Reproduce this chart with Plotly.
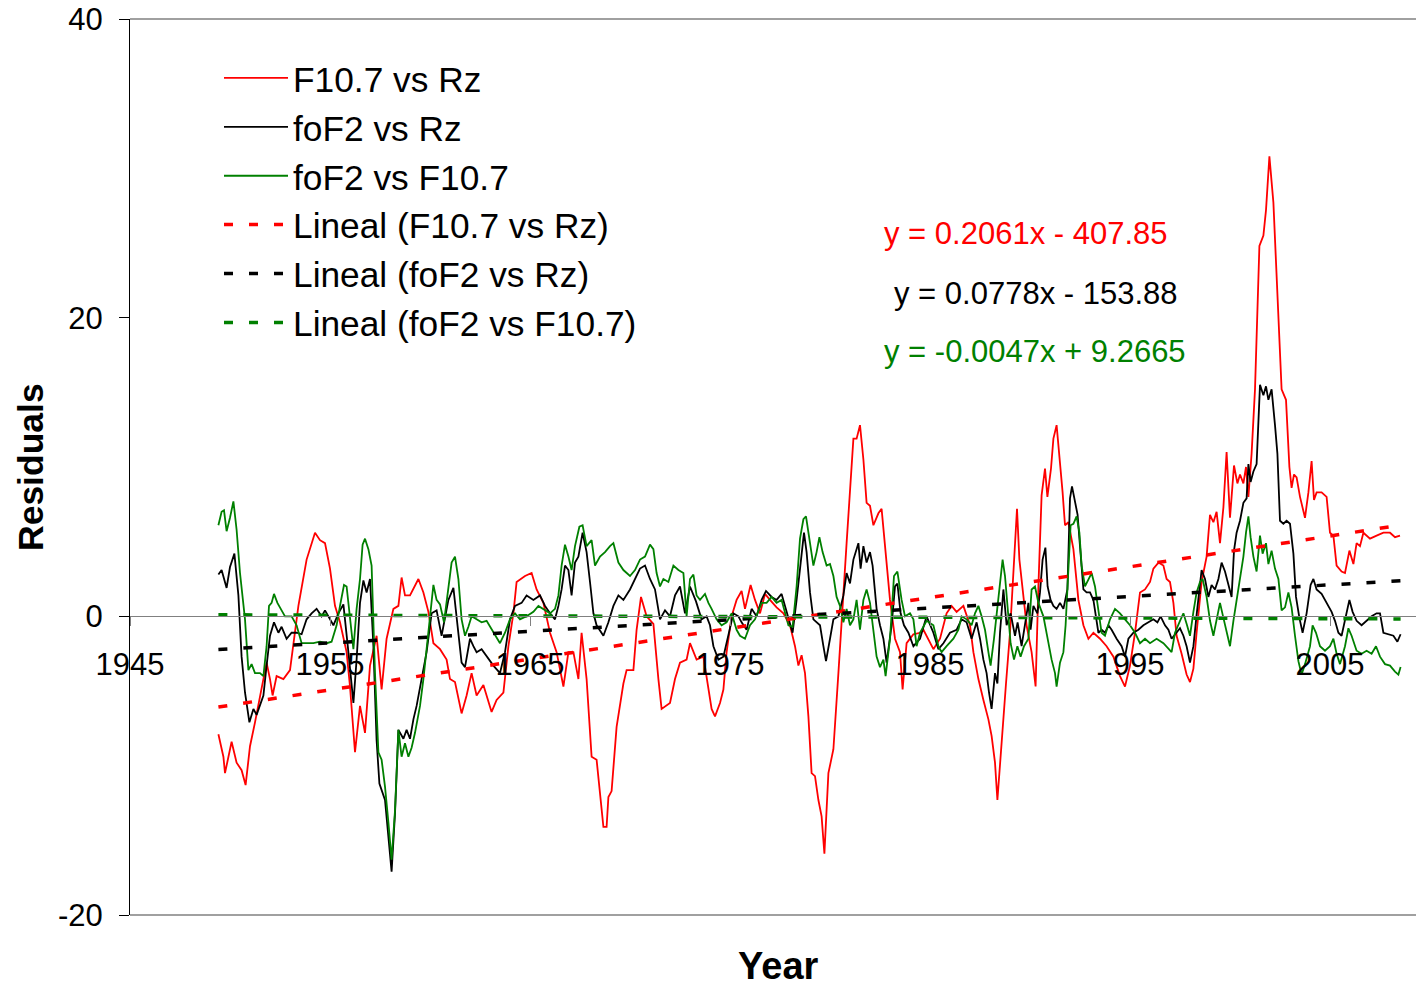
import plotly.graph_objects as go

# ---------------- data ----------------
red_years = [1949.42, 1949.67, 1949.75, 1950.08, 1950.33, 1950.58, 1950.78, 1951.0, 1951.25, 1951.5,
             1951.83, 1952.0, 1952.13, 1952.33, 1952.67, 1953.0, 1953.42, 1953.83, 1954.25, 1954.5,
             1954.75, 1955.0, 1955.25, 1955.5, 1955.83, 1956.0, 1956.25, 1956.5, 1956.75, 1957.0,
             1957.33, 1957.58, 1957.83, 1958.17, 1958.42, 1958.58, 1958.75, 1959.0, 1959.42, 1959.67,
             1959.92, 1960.17, 1960.5, 1960.83, 1961.0, 1961.25, 1961.58, 1961.83, 1962.08, 1962.33,
             1962.67, 1963.08, 1963.33, 1963.67, 1963.92, 1964.17, 1964.33, 1964.75, 1965.08, 1965.33,
             1965.67, 1966.0, 1966.33, 1966.67, 1966.92, 1967.17, 1967.42, 1967.58, 1967.83, 1968.08,
             1968.33, 1968.67, 1968.83, 1968.92, 1969.08, 1969.33, 1969.67, 1969.83, 1970.17, 1970.33,
             1970.55, 1970.83, 1971.17, 1971.42, 1971.58, 1972.0, 1972.25, 1972.5, 1972.83, 1973.0,
             1973.33, 1973.67, 1973.92, 1974.08, 1974.25, 1974.5, 1974.67, 1974.83, 1975.08, 1975.33,
             1975.58, 1975.75, 1976.03, 1976.25, 1976.5, 1976.75, 1977.0, 1977.33, 1977.67, 1978.0,
             1978.25, 1978.42, 1978.58, 1978.75, 1978.92, 1979.08, 1979.25, 1979.42, 1979.58, 1979.72,
             1979.92, 1980.17, 1980.42, 1980.67, 1980.83, 1981.17, 1981.33, 1981.5, 1981.67, 1981.83,
             1982.0, 1982.17, 1982.42, 1982.58, 1982.75, 1983.0, 1983.25, 1983.5, 1983.63, 1983.83,
             1984.17, 1984.5, 1984.67, 1985.17, 1985.5, 1985.83, 1986.08, 1986.33, 1986.67, 1987.0,
             1987.17, 1987.42, 1987.67, 1987.92, 1988.08, 1988.25, 1988.37, 1988.5, 1988.63, 1988.8,
             1989.0, 1989.2, 1989.35, 1989.47, 1989.58, 1989.83, 1990.08, 1990.28, 1990.42, 1990.58,
             1990.75, 1990.87, 1991.05, 1991.17, 1991.33, 1991.5, 1991.63, 1991.75, 1991.92, 1992.17,
             1992.42, 1992.67, 1992.92, 1993.17, 1993.5, 1993.83, 1994.17, 1994.5, 1994.75, 1995.0,
             1995.25, 1995.5, 1995.75, 1996.0, 1996.17, 1996.42, 1996.67, 1996.83, 1997.0, 1997.17,
             1997.33, 1997.58, 1997.83, 1998.0, 1998.17, 1998.33, 1998.58, 1998.83, 1999.0, 1999.17,
             1999.33, 1999.5, 1999.67, 1999.83, 2000.0, 2000.2, 2000.37, 2000.5, 2000.67, 2000.8,
             2000.92, 2001.08, 2001.25, 2001.47, 2001.67, 2001.8, 2001.97, 2002.17, 2002.37, 2002.58,
             2002.8, 2002.97, 2003.08, 2003.2, 2003.33, 2003.5, 2003.75, 2003.92, 2004.08, 2004.2,
             2004.33, 2004.58, 2004.83, 2005.0, 2005.17, 2005.33, 2005.58, 2005.75, 2005.97, 2006.17,
             2006.33, 2006.5, 2006.67, 2007.0, 2007.33, 2007.67, 2008.0, 2008.25, 2008.5]
red_vals = [-7.9, -9.4, -10.5, -8.4, -9.8, -10.3, -11.3, -8.7, -7.1, -5.3,
            -3.1, -4.2, -5.3, -4.0, -4.2, -3.6, 0.7, 3.8, 5.6, 5.1,
            4.9, 3.2, 0.7, -0.4, -2.4, -4.7, -9.1, -6.0, -7.8, -3.3,
            -1.3, -4.9, -1.5, 0.5, 0.7, 2.6, 1.4, 1.4, 2.5, 1.6,
            0.3, -1.8, -2.2, -2.9, -4.2, -4.4, -6.5, -5.3, -3.8, -5.3,
            -4.6, -6.4, -5.6, -5.1, -2.0, 0.2, 2.3, 2.7, 2.9, 1.8,
            0.9, -1.1, -2.4, -4.7, -2.4, -2.4, -4.2, -1.1, -4.2, -9.4,
            -9.6, -14.1, -14.1, -12.1, -11.7, -7.4, -4.5, -3.6, -3.6, -0.9,
            1.3, 0.0, -0.5, -4.2, -6.2, -5.8, -4.2, -3.1, -2.9, -1.8,
            -2.9, -2.7, -4.7, -6.2, -6.7, -5.8, -4.9, -2.4, 0.0, 1.1,
            1.7, 0.5, 2.1, 1.1, 0.2, 1.5, 1.1, 0.6, 0.2, -0.6,
            -2.0, -3.3, -2.6, -3.8, -6.7, -10.5, -10.7, -12.3, -13.4, -15.9,
            -10.5, -8.9, -3.8, 1.1, 4.9, 11.9, 11.9, 12.8, 10.5, 7.6,
            7.4, 6.1, 6.9, 7.2, 4.5, 1.1, -1.5, -2.4, -4.9, -1.8,
            -1.2, -1.1, -0.9, -2.2, -1.5, 0.2, 0.7, 0.3, 0.7, -0.6,
            -2.4, -4.2, -5.6, -6.9, -8.0, -9.8, -12.3, -9.8, -7.1, -4.5,
            -1.1, 3.4, 7.2, 3.8, 2.3, -0.6, -2.4, -4.7, 2.0, 8.1,
            9.9, 8.0, 9.9, 11.9, 12.8, 10.5, 8.3, 6.1, 6.3, 4.5,
            1.1, -0.6, -1.5, -1.1, -1.5, -2.0, -2.7, -4.0, -4.7, -3.3,
            -1.1, 1.6, 1.8, 2.3, 3.2, 3.6, 3.4, 2.5, 2.3, 0.9,
            -1.3, -2.5, -3.9, -4.4, -3.5, -1.1, 2.3, 4.0, 6.8, 6.3,
            7.0, 4.9, 7.3, 11.0, 6.6, 10.1, 8.9, 9.5, 8.9, 10.0,
            8.0, 10.9, 15.2, 24.8, 25.5, 27.2, 30.8, 27.7, 21.2, 15.2,
            14.5, 10.0, 8.6, 9.5, 9.3, 8.0, 6.6, 8.3, 10.4, 7.8,
            8.3, 8.3, 8.0, 5.6, 5.4, 3.4, 3.0, 2.9, 4.4, 3.5,
            4.9, 4.7, 5.6, 5.2, 5.4, 5.6, 5.6, 5.3, 5.4]

black_years = [1949.42, 1949.58, 1949.83, 1950.0, 1950.22, 1950.42, 1950.58, 1950.75, 1950.97, 1951.17,
               1951.33, 1951.5, 1951.67, 1951.83, 1952.0, 1952.2, 1952.42, 1952.58, 1952.83, 1953.08,
               1953.33, 1953.58, 1953.83, 1954.08, 1954.33, 1954.58, 1954.75, 1954.92, 1955.17, 1955.42,
               1955.67, 1955.92, 1956.17, 1956.33, 1956.5, 1956.67, 1956.83, 1957.0, 1957.17, 1957.33,
               1957.47, 1957.75, 1957.97, 1958.08, 1958.25, 1958.42, 1958.67, 1958.83, 1959.0, 1959.17,
               1959.33, 1959.5, 1959.83, 1960.08, 1960.33, 1960.58, 1960.92, 1961.17, 1961.42, 1961.58,
               1961.75, 1962.0, 1962.17, 1962.33, 1962.58, 1962.83, 1963.17, 1963.5, 1963.75, 1964.0,
               1964.25, 1964.58, 1964.83, 1965.17, 1965.5, 1965.75, 1966.0, 1966.25, 1966.42, 1966.58,
               1966.75, 1966.92, 1967.08, 1967.25, 1967.42, 1967.63, 1967.83, 1968.0, 1968.17, 1968.33,
               1968.67, 1968.92, 1969.17, 1969.42, 1969.67, 1970.0, 1970.25, 1970.5, 1970.75, 1971.0,
               1971.25, 1971.5, 1971.75, 1972.0, 1972.25, 1972.5, 1972.75, 1973.0, 1973.3, 1973.58,
               1973.83, 1974.0, 1974.17, 1974.42, 1974.67, 1974.92, 1975.17, 1975.42, 1975.58, 1975.83,
               1976.08, 1976.33, 1976.58, 1976.8, 1977.08, 1977.33, 1977.58, 1977.75, 1978.0, 1978.13,
               1978.33, 1978.53, 1978.7, 1978.83, 1979.0, 1979.17, 1979.33, 1979.5, 1979.67, 1979.8,
               1980.0, 1980.17, 1980.42, 1980.67, 1980.83, 1981.0, 1981.17, 1981.42, 1981.53, 1981.67,
               1981.83, 1982.0, 1982.13, 1982.33, 1982.5, 1982.67, 1982.83, 1983.08, 1983.25, 1983.37,
               1983.53, 1983.7, 1983.92, 1984.17, 1984.5, 1984.83, 1985.17, 1985.42, 1985.67, 1986.0,
               1986.33, 1986.58, 1986.83, 1987.08, 1987.33, 1987.5, 1987.67, 1987.83, 1987.95, 1988.08,
               1988.25, 1988.37, 1988.5, 1988.67, 1988.83, 1989.03, 1989.25, 1989.38, 1989.58, 1989.8,
               1989.92, 1990.03, 1990.17, 1990.37, 1990.5, 1990.63, 1990.77, 1990.88, 1991.03, 1991.17,
               1991.33, 1991.5, 1991.67, 1991.87, 1992.0, 1992.1, 1992.25, 1992.38, 1992.5, 1992.67,
               1992.83, 1993.0, 1993.17, 1993.42, 1993.58, 1993.75, 1993.92, 1994.08, 1994.33, 1994.58,
               1994.75, 1994.92, 1995.17, 1995.42, 1995.67, 1995.92, 1996.17, 1996.37, 1996.53, 1996.75,
               1996.92, 1997.08, 1997.25, 1997.5, 1997.67, 1997.83, 1998.0, 1998.17, 1998.33, 1998.58,
               1998.75, 1998.92, 1999.08, 1999.25, 1999.42, 1999.58, 1999.75, 1999.92, 2000.08, 2000.2,
               2000.33, 2000.5, 2000.67, 2000.83, 2000.92, 2001.03, 2001.17, 2001.33, 2001.5, 2001.67,
               2001.8, 2001.92, 2002.08, 2002.25, 2002.37, 2002.5, 2002.67, 2002.83, 2003.0, 2003.17,
               2003.3, 2003.47, 2003.63, 2003.83, 2004.03, 2004.17, 2004.33, 2004.58, 2004.83, 2005.08,
               2005.25, 2005.42, 2005.58, 2005.75, 2005.97, 2006.13, 2006.33, 2006.58, 2006.83, 2007.08,
               2007.33, 2007.5, 2007.67, 2007.92, 2008.17, 2008.37, 2008.53]
black_vals = [2.8, 3.1, 1.9, 3.3, 4.2, 1.4, -2.7, -5.1, -7.1, -6.2,
              -6.6, -6.0, -5.3, -3.3, -1.3, -0.4, -1.1, -0.7, -1.5, -1.1,
              -1.1, -1.2, -0.2, 0.2, 0.5, 0.0, 0.4, 0.0, -0.6, 0.2,
              0.8, -2.4, -5.8, -2.9, 0.9, 2.4, 1.6, 2.5, -2.0, -8.3,
              -11.2, -12.3, -15.4, -17.1, -13.2, -7.6, -8.2, -7.6, -8.2, -6.9,
              -6.0, -4.7, -2.4, 0.2, 0.4, -1.3, 1.1, 1.9, -0.9, -3.1,
              -3.4, -1.5, -2.0, -2.4, -2.2, -2.7, -3.3, -3.8, -2.4, -0.2,
              0.7, 0.9, 1.4, 1.1, 1.4, 0.7, 0.2, -0.2, 0.7, 1.8,
              3.4, 3.1, 1.4, 3.6, 4.0, 5.6, 4.3, 2.3, 0.2, -0.6,
              -1.3, -0.4, 0.7, 1.4, 1.1, 1.8, 2.5, 3.2, 3.4, 2.5,
              1.8, -0.2, 0.4, 0.0, 1.4, 2.0, 0.2, 2.0, 1.0, -0.2,
              0.0, -0.6, -2.0, -2.9, -2.7, -1.3, 0.2, 0.0, -0.4, -0.9,
              0.5, 0.0, 1.1, 1.7, 1.3, 1.1, 1.5, 0.7, -0.6, -1.1,
              1.1, 3.8, 5.6, 4.3, 1.6, -0.2, -0.4, -0.6, -2.0, -3.0,
              -1.5, -0.2, 0.0, 1.4, 2.9, 2.2, 3.8, 4.9, 3.2, 4.7,
              3.6, 4.3, 3.4, 0.5, -0.6, -1.5, -3.1, -0.6, 2.0, 2.2,
              0.2, -0.6, -1.1, -2.0, -1.5, 0.0, -1.1, -2.2, -1.8, -1.1,
              -0.9, -0.2, -0.4, -1.5, -0.4, -1.5, -2.9, -3.8, -5.1, -6.2,
              -3.8, -4.5, -1.1, 1.8, -0.6, 0.2, -1.3, -0.4, -2.0, 0.0,
              0.9, -0.9, 0.7, 0.2, 1.6, 3.8, 4.6, 2.0, 1.1, 0.7,
              0.5, 0.9, 0.5, 1.8, 7.9, 8.7, 7.6, 6.8, 4.7, 1.8,
              1.6, 1.6, 1.1, -1.1, -0.9, -1.1, -0.6, -0.9, -1.5, -2.0,
              -2.7, -1.5, -1.1, -0.9, -0.6, -0.4, -0.2, -0.4, 0.0, -0.6,
              -0.9, -1.5, -1.2, -0.8, -1.3, -2.0, -3.1, -2.0, 0.1, 3.1,
              2.5, 1.3, 2.1, 1.8, 2.5, 3.6, 3.0, 2.1, 1.3, 4.4,
              5.6, 6.4, 7.6, 7.9, 10.2, 9.0, 9.7, 10.2, 15.5, 14.8,
              15.4, 14.5, 15.2, 12.8, 10.9, 6.4, 6.2, 6.4, 6.2, 4.2,
              1.3, -0.1, -1.1, 0.2, 2.1, 2.5, 1.8, 1.5, 0.9, 0.3,
              -0.3, -1.1, -1.3, -0.3, 1.1, 0.3, -0.3, -0.6, -0.3, 0.0,
              0.2, 0.2, -1.1, -1.2, -1.3, -1.7, -1.2]

green_years = [1949.42, 1949.58, 1949.7, 1949.83, 1950.0, 1950.17, 1950.33, 1950.5, 1950.75, 1950.92,
               1951.08, 1951.25, 1951.5, 1951.67, 1951.83, 1951.95, 1952.08, 1952.2, 1952.37, 1952.5,
               1952.75, 1953.08, 1953.33, 1953.58, 1953.83, 1954.17, 1954.5, 1954.83, 1955.08, 1955.33,
               1955.5, 1955.7, 1955.83, 1956.0, 1956.17, 1956.33, 1956.5, 1956.63, 1956.75, 1956.92,
               1957.08, 1957.25, 1957.42, 1957.58, 1957.75, 1957.92, 1958.08, 1958.25, 1958.42, 1958.58,
               1958.75, 1958.92, 1959.08, 1959.25, 1959.5, 1959.67, 1959.83, 1960.0, 1960.17, 1960.33,
               1960.5, 1960.7, 1960.92, 1961.08, 1961.25, 1961.42, 1961.58, 1961.75, 1961.92, 1962.08,
               1962.33, 1962.58, 1962.83, 1963.17, 1963.5, 1963.75, 1964.0, 1964.25, 1964.5, 1964.83,
               1965.17, 1965.42, 1965.67, 1966.0, 1966.25, 1966.42, 1966.58, 1966.75, 1966.92, 1967.08,
               1967.25, 1967.47, 1967.63, 1967.83, 1968.08, 1968.25, 1968.5, 1968.75, 1969.0, 1969.17,
               1969.42, 1969.67, 1970.0, 1970.25, 1970.5, 1970.75, 1971.0, 1971.17, 1971.33, 1971.5,
               1971.67, 1971.92, 1972.17, 1972.42, 1972.67, 1972.83, 1973.0, 1973.17, 1973.33, 1973.5,
               1973.75, 1973.92, 1974.08, 1974.33, 1974.58, 1974.83, 1975.08, 1975.33, 1975.5, 1975.75,
               1976.0, 1976.25, 1976.58, 1976.83, 1977.08, 1977.33, 1977.58, 1977.75, 1977.92, 1978.13,
               1978.33, 1978.5, 1978.67, 1978.8, 1978.97, 1979.17, 1979.33, 1979.47, 1979.63, 1979.83,
               1980.0, 1980.17, 1980.33, 1980.5, 1980.67, 1980.83, 1981.0, 1981.17, 1981.33, 1981.5,
               1981.67, 1981.83, 1982.0, 1982.17, 1982.33, 1982.5, 1982.67, 1982.78, 1983.0, 1983.2,
               1983.37, 1983.58, 1983.75, 1984.0, 1984.17, 1984.33, 1984.5, 1984.83, 1985.17, 1985.42,
               1985.58, 1985.83, 1986.17, 1986.42, 1986.58, 1986.83, 1987.08, 1987.25, 1987.42, 1987.58,
               1987.75, 1987.92, 1988.03, 1988.2, 1988.37, 1988.5, 1988.63, 1988.75, 1988.87, 1989.03,
               1989.2, 1989.37, 1989.53, 1989.7, 1989.92, 1990.08, 1990.25, 1990.42, 1990.67, 1990.83,
               1991.08, 1991.25, 1991.33, 1991.5, 1991.67, 1991.78, 1991.92, 1992.03, 1992.17, 1992.33,
               1992.47, 1992.58, 1992.75, 1992.92, 1993.08, 1993.25, 1993.42, 1993.58, 1993.75, 1994.0,
               1994.25, 1994.5, 1994.75, 1995.0, 1995.25, 1995.5, 1995.75, 1996.0, 1996.33, 1996.67,
               1997.08, 1997.25, 1997.5, 1997.67, 1997.83, 1998.0, 1998.17, 1998.33, 1998.5, 1998.63,
               1998.83, 1999.0, 1999.17, 1999.33, 1999.5, 1999.67, 1999.83, 2000.0, 2000.17, 2000.33,
               2000.5, 2000.67, 2000.8, 2000.92, 2001.03, 2001.17, 2001.33, 2001.5, 2001.63, 2001.8,
               2001.92, 2002.08, 2002.25, 2002.42, 2002.58, 2002.75, 2002.92, 2003.08, 2003.25, 2003.42,
               2003.58, 2003.75, 2004.0, 2004.13, 2004.3, 2004.5, 2004.75, 2005.0, 2005.17, 2005.33,
               2005.5, 2005.75, 2005.92, 2006.08, 2006.33, 2006.58, 2006.83, 2007.08, 2007.3, 2007.5,
               2007.75, 2008.0, 2008.25, 2008.42, 2008.53]
green_vals = [6.1, 7.0, 7.1, 5.7, 6.6, 7.7, 5.8, 2.9, -0.2, -3.6,
              -3.2, -3.8, -3.8, -4.0, -2.0, 0.7, 0.9, 1.5, 0.9, 0.6,
              0.0, 0.0, -0.6, -1.8, -1.8, -1.8, -1.7, -1.8, -1.7, -0.6,
              0.7, 2.1, 2.0, -0.2, -2.2, 0.5, 2.5, 4.8, 5.2, 4.5,
              3.4, -3.8, -9.1, -9.6, -11.4, -13.8, -16.3, -13.0, -7.6, -9.4,
              -8.5, -9.4, -8.8, -7.8, -6.0, -4.2, -2.2, -0.2, 2.1, 1.1,
              0.8, -0.4, 2.0, 3.6, 4.0, 2.5, -0.2, -1.3, -0.7, 0.0,
              -0.2, -0.4, -0.3, -1.1, -1.8, -1.1, -0.2, 0.2, -0.2, 0.0,
              0.3, 0.7, 0.5, 0.2, 0.5, 1.4, 3.4, 4.8, 4.0, 3.1,
              4.7, 6.0, 6.1, 4.7, 5.1, 3.4, 4.0, 4.3, 4.7, 4.9,
              3.6, 3.1, 2.7, 3.1, 3.8, 4.0, 4.8, 4.5, 2.9, 2.0,
              2.5, 2.3, 3.4, 3.1, 2.9, 0.0, 2.5, 2.8, 1.4, 1.1,
              1.5, 0.9, 0.5, -0.2, -0.6, -0.4, 0.2, -0.9, -1.3, -1.5,
              -0.6, -0.2, 0.9, 0.9, 1.3, 0.9, 1.1, 0.2, -0.6, -0.7,
              2.0, 5.2, 6.5, 6.7, 5.2, 3.4, 4.3, 5.3, 4.3, 3.4,
              3.5, 2.7, 1.3, 0.7, -0.4, 0.5, -0.6, -0.2, 1.1, -0.9,
              1.1, 1.8, 0.9, -1.1, -2.7, -3.4, -2.9, -4.0, -1.5, 2.7,
              3.0, 1.1, 0.0, 0.2, -0.2, -2.0, -1.1, -0.3, -0.6, -2.0,
              -2.4, -2.0, -1.5, -0.9, 0.0, -0.2, -0.6, 0.2, 0.7, 0.0,
              -0.9, -2.4, -3.3, -1.5, 0.7, 2.5, 3.8, 2.7, 0.7, -1.8,
              -2.9, -2.0, -2.7, -2.0, -1.5, 1.8, 2.0, 0.9, 0.0, -1.1,
              -2.9, -3.8, -4.7, -3.1, -2.4, -0.6, 2.9, 6.1, 6.2, 6.7,
              5.6, 3.4, 2.0, 2.5, 2.9, 2.0, 0.2, -1.1, -1.3, -0.2,
              0.5, 0.2, -0.2, -0.6, -1.1, -1.8, -1.5, -1.8, -1.5, -1.8,
              -2.4, -1.1, -0.3, 0.2, -0.5, -1.3, 0.3, 1.6, 2.3, 2.5,
              1.3, -0.3, -1.3, -0.1, 0.9, -0.1, -1.1, -2.0, -0.3, 1.1,
              2.3, 4.0, 5.6, 6.7, 5.3, 4.0, 3.0, 5.4, 4.2, 4.9,
              3.5, 4.4, 3.2, 2.5, 0.4, 0.6, 1.6, 0.6, -1.3, -3.0,
              -3.9, -3.2, -2.0, -0.6, -1.1, -2.0, -2.3, -2.0, -1.5, -2.5,
              -3.2, -2.0, -0.8, -1.3, -2.3, -2.5, -2.3, -2.5, -2.0, -2.7,
              -3.2, -3.3, -3.7, -3.9, -3.4]

series_names = ["F10.7 vs Rz", "foF2 vs Rz", "foF2 vs F10.7"]
trend_names = ["Lineal (F10.7 vs Rz)", "Lineal (foF2 vs Rz)", "Lineal (foF2 vs F10.7)"]
trend_slopes = [0.2061, 0.0778, -0.0047]
trend_intercepts = [-407.85, -153.88, 9.2665]
equation_texts = ["y = 0.2061x - 407.85", "y = 0.0778x - 153.88", "y = -0.0047x + 9.2665"]
colors = ["#FF0000", "#000000", "#008000"]

x_ticks = [1945, 1955, 1965, 1975, 1985, 1995, 2005]
y_ticks = [-20, 0, 20, 40]
y_tick_labels = ["-20", "0", "20", "40"]

FONT = "Liberation Sans, Arial, Helvetica, sans-serif"

fig = go.Figure()
all_years = [red_years, black_years, green_years]
all_vals = [red_vals, black_vals, green_vals]

for name, xs, ys, c in zip(series_names, all_years, all_vals, colors):
    fig.add_trace(go.Scatter(x=xs, y=ys, mode="lines", name=name,
                             line=dict(color=c, width=1.8)))

for name, xs, a, b, c in zip(trend_names, all_years, trend_slopes, trend_intercepts, colors):
    tx = [xs[0], xs[-1]]
    ty = [a * v + b for v in tx]
    fig.add_trace(go.Scatter(x=tx, y=ty, mode="lines", name=name,
                             line=dict(color=c, width=3.5, dash="9px,16px")))

W, H = 1416, 989
L, R, T, B = 130, 0, 19, 74
pw, ph = W - L - R, H - T - B
x0 = 1945
x1 = x0 + pw / 20.0

def px_x(p):
    return (p - L) / pw

def px_y(p):
    return (H - B - p) / ph

ann = []
eq_pos = [(882, 234), (892, 293), (882, 351)]
for txt, c, (ex, ey) in zip(equation_texts, colors, eq_pos):
    ann.append(dict(text=txt, x=px_x(ex), y=px_y(ey), xref="paper", yref="paper",
                    xanchor="left", yanchor="middle", showarrow=False,
                    font=dict(family=FONT, size=31, color=c)))
ann.append(dict(text="<b>Residuals</b>", x=px_x(31), y=px_y(467), xref="paper", yref="paper",
                xanchor="center", yanchor="middle", showarrow=False, textangle=-90,
                font=dict(family=FONT, size=35.5, color="black")))
ann.append(dict(text="<b>Year</b>", x=px_x(778), y=px_y(966), xref="paper", yref="paper",
                xanchor="center", yanchor="middle", showarrow=False,
                font=dict(family=FONT, size=38, color="black")))

fig.update_layout(
    width=W, height=H,
    margin=dict(l=L, r=R, t=T, b=B, pad=0),
    paper_bgcolor="white", plot_bgcolor="white",
    font=dict(family=FONT, size=31, color="black"),
    showlegend=True,
    legend=dict(x=px_x(219), y=px_y(48.5), xanchor="left", yanchor="top",
                bgcolor="rgba(0,0,0,0)", font=dict(family=FONT, size=35.3, color="black"),
                itemwidth=64, tracegroupgap=0),
    xaxis=dict(range=[x0, x1], tickvals=x_ticks, ticktext=[str(v) for v in x_ticks],
               showgrid=False, zeroline=False, showline=True, linecolor="#808080", linewidth=1,
               ticks="outside", ticklen=9, tickcolor="#808080", tickwidth=1,
               anchor="free", position=(0 - y_ticks[0]) / (y_ticks[-1] - y_ticks[0]),
               ticklabelstandoff=11, tickfont=dict(family=FONT, size=31, color="black")),
    yaxis=dict(range=[y_ticks[0], y_ticks[-1]], tickvals=y_ticks, ticktext=y_tick_labels,
               showgrid=False, zeroline=False, showline=True, linecolor="black", linewidth=1,
               ticks="outside", ticklen=10, tickcolor="black", tickwidth=1,
               ticklabelstandoff=10, tickfont=dict(family=FONT, size=31, color="black")),
    annotations=ann,
    shapes=[
        dict(type="line", xref="paper", yref="paper", x0=0, x1=1, y0=1, y1=1,
             line=dict(color="#808080", width=1.5)),
        dict(type="line", xref="paper", yref="paper", x0=0, x1=1, y0=0, y1=0,
             line=dict(color="#808080", width=1.5)),
    ],
)

fig.write_html("out.html")
